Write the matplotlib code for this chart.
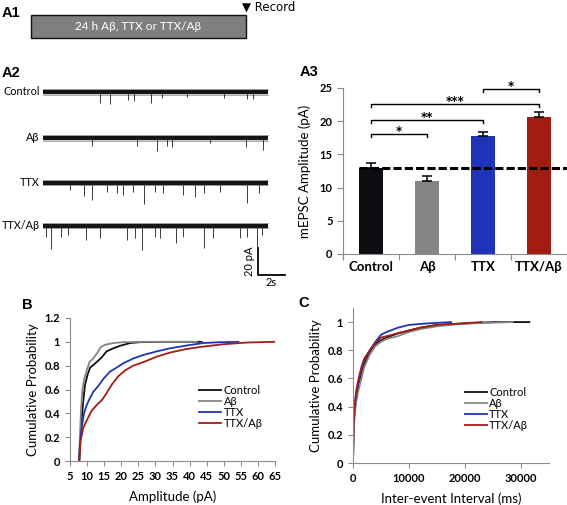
import matplotlib
matplotlib.use('Agg')
import matplotlib.pyplot as plt
from matplotlib.patches import Rectangle

plt.rcParams['font.family'] = ['Lato', 'DejaVu Sans']

groups = ['Control', 'Aβ', 'TTX', 'TTX/Aβ']
colors = ['#0d0d12', '#858585', '#1f33b8', '#a11d12']

# A2 - mEPSC events (time s, amplitude pA)
ctrl_t = [4.22, 4.96, 6.32, 6.77, 8.0, 8.79, 10.64, 13.43, 15.09, 15.58]
ctrl_a = [7.9, 8.6, 5.7, 6.4, 7.9, 4.4, 3.7, 4.4, 5.0, 5.4]
ab_t = [3.6, 6.94, 8.42, 9.16, 9.53, 12.37, 15.01, 16.27]
ab_a = [6.2, 6.2, 9.9, 6.2, 6.7, 3.7, 6.7, 8.6]
ttx_t = [2.0, 3.04, 3.65, 4.72, 5.51, 5.95, 6.69, 7.48, 8.3, 8.91, 10.4, 11.26, 11.93, 13.11, 15.09, 16.0]
ttx_a = [5.4, 9.9, 12.8, 6.7, 7.9, 9.1, 6.7, 15.8, 6.7, 7.9, 9.1, 10.4, 7.9, 6.7, 15.3, 7.9]
tab_t = [0.22, 0.57, 1.31, 1.88, 3.16, 4.22, 6.25, 6.81, 7.31, 8.3, 8.67, 9.85, 10.4, 11.93, 12.62, 14.59, 15.13, 15.83, 16.25]
tab_a = [8.1, 17.5, 8.1, 6.9, 10.6, 9.4, 10.6, 9.4, 18.0, 8.1, 9.4, 13.1, 8.1, 16.8, 9.4, 9.4, 8.1, 15.6, 6.9]
trace_len = 16.67

# A3 - mean mEPSC amplitude
amp_mean = [13.0, 11.0, 17.8, 20.7]
amp_sem = [0.7, 0.8, 0.6, 0.7]
ctrl_level = 12.9
sig_pairs = [(0, 1, '*'), (0, 2, '**'), (0, 3, '***'), (2, 3, '*')]

# B - cumulative amplitude
b_ctrl_x = [7.7, 7.9, 8.4, 8.9, 9.4, 10.1, 10.9, 11.8, 12.8, 14.3, 15.7, 17.7, 19.6, 22.6, 25.5, 32.3, 43.5]
b_ctrl_y = [0, 0.14, 0.34, 0.51, 0.64, 0.72, 0.785, 0.805, 0.83, 0.87, 0.92, 0.946, 0.966, 0.99, 0.997, 1.0, 1.0]
b_ab_x = [7.7, 7.9, 8.2, 8.6, 9.1, 9.9, 10.7, 11.8, 12.8, 14.0, 15.2, 17.7, 20.6, 27.4, 42.1]
b_ab_y = [0, 0.2, 0.42, 0.59, 0.68, 0.76, 0.83, 0.86, 0.9, 0.955, 0.975, 0.99, 0.997, 1.0, 1.0]
b_ttx_x = [7.7, 7.9, 8.4, 9.1, 9.9, 10.7, 11.8, 13.3, 14.8, 16.7, 18.7, 20.6, 23.5, 26.5, 30.4, 34.3, 39.1, 44.0, 48.9, 54.3]
b_ttx_y = [0, 0.14, 0.28, 0.4, 0.47, 0.52, 0.58, 0.63, 0.69, 0.75, 0.785, 0.82, 0.86, 0.89, 0.92, 0.946, 0.969, 0.99, 0.997, 1.0]
b_tab_x = [7.7, 8.1, 8.9, 9.9, 11.3, 12.8, 14.3, 15.5, 17.2, 19.1, 21.1, 23.5, 26.5, 30.4, 34.3, 39.1, 44.0, 49.9, 56.7, 65.0]
b_tab_y = [0, 0.17, 0.28, 0.34, 0.42, 0.47, 0.51, 0.56, 0.64, 0.71, 0.76, 0.80, 0.83, 0.876, 0.91, 0.94, 0.96, 0.98, 0.994, 1.0]

# C - cumulative inter-event interval
c_ctrl_x = [0, 100, 300, 600, 1000, 1500, 2000, 3000, 4000, 5000, 6000, 8000, 10000, 12000, 15000, 20000, 25000, 31500]
c_ctrl_y = [0, 0.25, 0.38, 0.47, 0.56, 0.64, 0.7, 0.79, 0.84, 0.87, 0.89, 0.92, 0.94, 0.96, 0.98, 0.99, 1.0, 1.0]
c_ab_x = [0, 100, 300, 600, 1000, 1500, 2000, 3000, 4000, 5000, 6000, 8000, 10000, 12000, 15000, 20000, 28500]
c_ab_y = [0, 0.22, 0.35, 0.44, 0.52, 0.6, 0.68, 0.77, 0.83, 0.86, 0.88, 0.9, 0.93, 0.95, 0.97, 0.99, 1.0]
c_ttx_x = [0, 100, 300, 600, 1000, 1500, 2000, 3000, 4000, 5000, 6000, 8000, 10000, 13000, 17500]
c_ttx_y = [0, 0.27, 0.4, 0.5, 0.58, 0.67, 0.73, 0.8, 0.86, 0.91, 0.93, 0.96, 0.98, 0.99, 1.0]
c_tab_x = [0, 100, 300, 600, 1000, 1500, 2000, 3000, 4000, 5000, 6000, 8000, 10000, 12000, 15000, 19000, 23000]
c_tab_y = [0, 0.28, 0.42, 0.52, 0.6, 0.68, 0.74, 0.8, 0.85, 0.89, 0.9, 0.92, 0.94, 0.96, 0.98, 0.99, 1.0]

W, H = 567, 505
fig = plt.figure(figsize=(W / 100, H / 100), dpi=100)


def px_axes(x0, y0, x1, y1):
    # axes from pixel box (top-left origin)
    return fig.add_axes([x0 / W, 1 - y1 / H, (x1 - x0) / W, (y1 - y0) / H])


def panel_label(x, y, s):
    fig.text(x / W, 1 - y / H, s, fontsize=10.5, fontweight='bold',
             family='Liberation Sans', va='center', ha='left')


axis_grey = '#8c8c8c'

# ---- A1 protocol bar
ax1 = px_axes(31, 15, 246, 38)
ax1.axis('off')
ax1.add_patch(Rectangle((0, 0), 1, 1, transform=ax1.transAxes, facecolor='#7f7f7f',
                        edgecolor='#111111', lw=1.0, clip_on=False))
ax1.text(0.5, 0.5, '24 h Aβ, TTX or TTX/Aβ', color='white', fontsize=8.5,
         ha='center', va='center', transform=ax1.transAxes)
fig.text(242 / W, 1 - 7 / H, '▼ Record', fontsize=8.5, va='center', ha='left',
         family=['DejaVu Sans'])
panel_label(2, 13, 'A1')

# ---- A2 traces
ax2 = px_axes(43, 80, 290, 290)
ax2.axis('off')
ax2.set_xlim(0, (290 - 43) / 13.5)
ax2.set_ylim(0, 210 / 1.35)
offsets = [146.7, 112.6, 79.6, 47.6]
events = [(ctrl_t, ctrl_a), (ab_t, ab_a), (ttx_t, ttx_a), (tab_t, tab_a)]
for name, off, (tt, aa) in zip(groups, offsets, events):
    ax2.plot([0, trace_len], [off, off], color='#141414', lw=3.2, solid_capstyle='butt')
    ax2.plot([0, trace_len], [off + 1.9, off + 1.9], color='#8a8a8a', lw=0.5)
    ax2.plot([0, trace_len], [off - 1.9, off - 1.9], color='#8a8a8a', lw=0.5)
    ax2.vlines(tt, [off - 1.0] * len(tt), [off - a for a in aa], color='#3a3a3a', lw=0.7)
    ax2.text(-0.25, off, name, ha='right', va='center', fontsize=7.8)
# scale bar 20 pA / 2 s
sb_x, sb_y = 15.93, 11.1
ax2.plot([sb_x, sb_x, sb_x + 2], [sb_y + 20, sb_y, sb_y], color='black', lw=1.3, clip_on=False)
ax2.text(sb_x - 0.25, sb_y + 10, '20 pA', rotation=90, ha='right', va='center', fontsize=8)
ax2.text(sb_x + 1.0, sb_y - 1.5, '2s', ha='center', va='top', fontsize=8)
panel_label(2, 73, 'A2')

# ---- A3 bars
ax3 = px_axes(343, 88, 567, 254)
x = range(len(groups))
ax3.bar(x, amp_mean, width=0.42, color=colors, zorder=2)
ax3.errorbar(x, amp_mean, yerr=[[0] * 4, amp_sem], fmt='none', ecolor='black',
             elinewidth=1.1, capsize=3.5, capthick=1.1, zorder=3)
ax3.plot([-0.21, 3.7], [ctrl_level, ctrl_level], color='black', lw=2.2,
         dashes=(2.7, 1.0), clip_on=False, zorder=4)
bracket_y = [18.1, 20.2, 22.6, 24.8]
for (i, j, s), yb in zip(sig_pairs, bracket_y):
    ax3.plot([i, i, j, j], [yb - 0.45, yb, yb, yb - 0.45], color='black', lw=1.0, clip_on=False)
    ax3.text((i + j) / 2, yb - 0.15, s, ha='center', va='baseline', fontsize=8.5,
             fontweight='bold', family='DejaVu Sans', clip_on=False)
ax3.set_xlim(-0.5, 3.5)
ax3.set_ylim(0, 25)
ax3.set_yticks(range(0, 26, 5))
ax3.set_xticks([-0.5, 0.5, 1.5, 2.5, 3.5])
ax3.set_xticklabels([])
ax3.set_xticks(list(x), minor=True)
ax3.set_xticklabels(groups, minor=True, fontsize=9.5, fontweight='bold')
ax3.tick_params(axis='x', which='minor', length=0, pad=5)
ax3.tick_params(axis='x', which='major', length=4, color=axis_grey, direction='out')
ax3.tick_params(axis='y', length=4, color=axis_grey, labelsize=8)
for lab in ax3.get_yticklabels():
    lab.set_fontweight('bold')
for sp in ['top', 'right']:
    ax3.spines[sp].set_visible(False)
for sp in ['left', 'bottom']:
    ax3.spines[sp].set_color(axis_grey)
ax3.set_ylabel('mEPSC Amplitude (pA)', fontsize=9.5, labelpad=6)
panel_label(300, 72, 'A3')


def style_cdf(ax):
    for sp in ['top', 'right']:
        ax.spines[sp].set_visible(False)
    for sp in ['left', 'bottom']:
        ax.spines[sp].set_color(axis_grey)
    ax.tick_params(length=3.5, color=axis_grey, labelsize=8)
    for lab in ax.get_xticklabels() + ax.get_yticklabels():
        lab.set_fontweight('bold')
    ax.set_ylabel('Cumulative Probability', fontsize=9.5)


# ---- B amplitude CDF
axb = px_axes(70, 318, 275, 461)
for (xx, yy), c, name in zip([(b_ctrl_x, b_ctrl_y), (b_ab_x, b_ab_y), (b_ttx_x, b_ttx_y),
                              (b_tab_x, b_tab_y)], colors, groups):
    axb.plot(xx, yy, color=c, lw=1.3, label=name)
axb.set_xlim(5, 65)
axb.set_ylim(0, 1.2)
axb.set_xticks(range(5, 66, 5))
axb.set_yticks([0, 0.2, 0.4, 0.6, 0.8, 1.0, 1.2])
axb.set_yticklabels(['0', '0.2', '0.4', '0.6', '0.8', '1', '1.2'])
style_cdf(axb)
axb.set_xlabel('Amplitude (pA)', fontsize=9.5, labelpad=6)
axb.legend(loc='upper left', bbox_to_anchor=(0.63, 0.53), frameon=False, fontsize=8,
           handlelength=2.0, handletextpad=0.2, labelspacing=0.0, borderpad=0,
           borderaxespad=0)
panel_label(22, 305, 'B')

# ---- C interval CDF
axc = px_axes(353, 308, 549, 463)
for (xx, yy), c, name in zip([(c_ctrl_x, c_ctrl_y), (c_ab_x, c_ab_y), (c_ttx_x, c_ttx_y),
                              (c_tab_x, c_tab_y)], colors, groups):
    axc.plot(xx, yy, color=c, lw=1.3, label=name)
axc.set_xlim(0, 35000)
axc.set_ylim(0, 1.1)
axc.set_xticks([0, 10000, 20000, 30000])
axc.set_yticks([0, 0.2, 0.4, 0.6, 0.8, 1.0])
axc.set_yticklabels(['0', '0.2', '0.4', '0.6', '0.8', '1'])
style_cdf(axc)
axc.set_xlabel('Inter-event Interval (ms)', fontsize=9.5, labelpad=6)
axc.legend(loc='upper left', bbox_to_anchor=(0.57, 0.49), frameon=False, fontsize=8,
           handlelength=2.0, handletextpad=0.2, labelspacing=0.0, borderpad=0,
           borderaxespad=0)
panel_label(298, 303, 'C')

fig.savefig('out.png', dpi=100)
